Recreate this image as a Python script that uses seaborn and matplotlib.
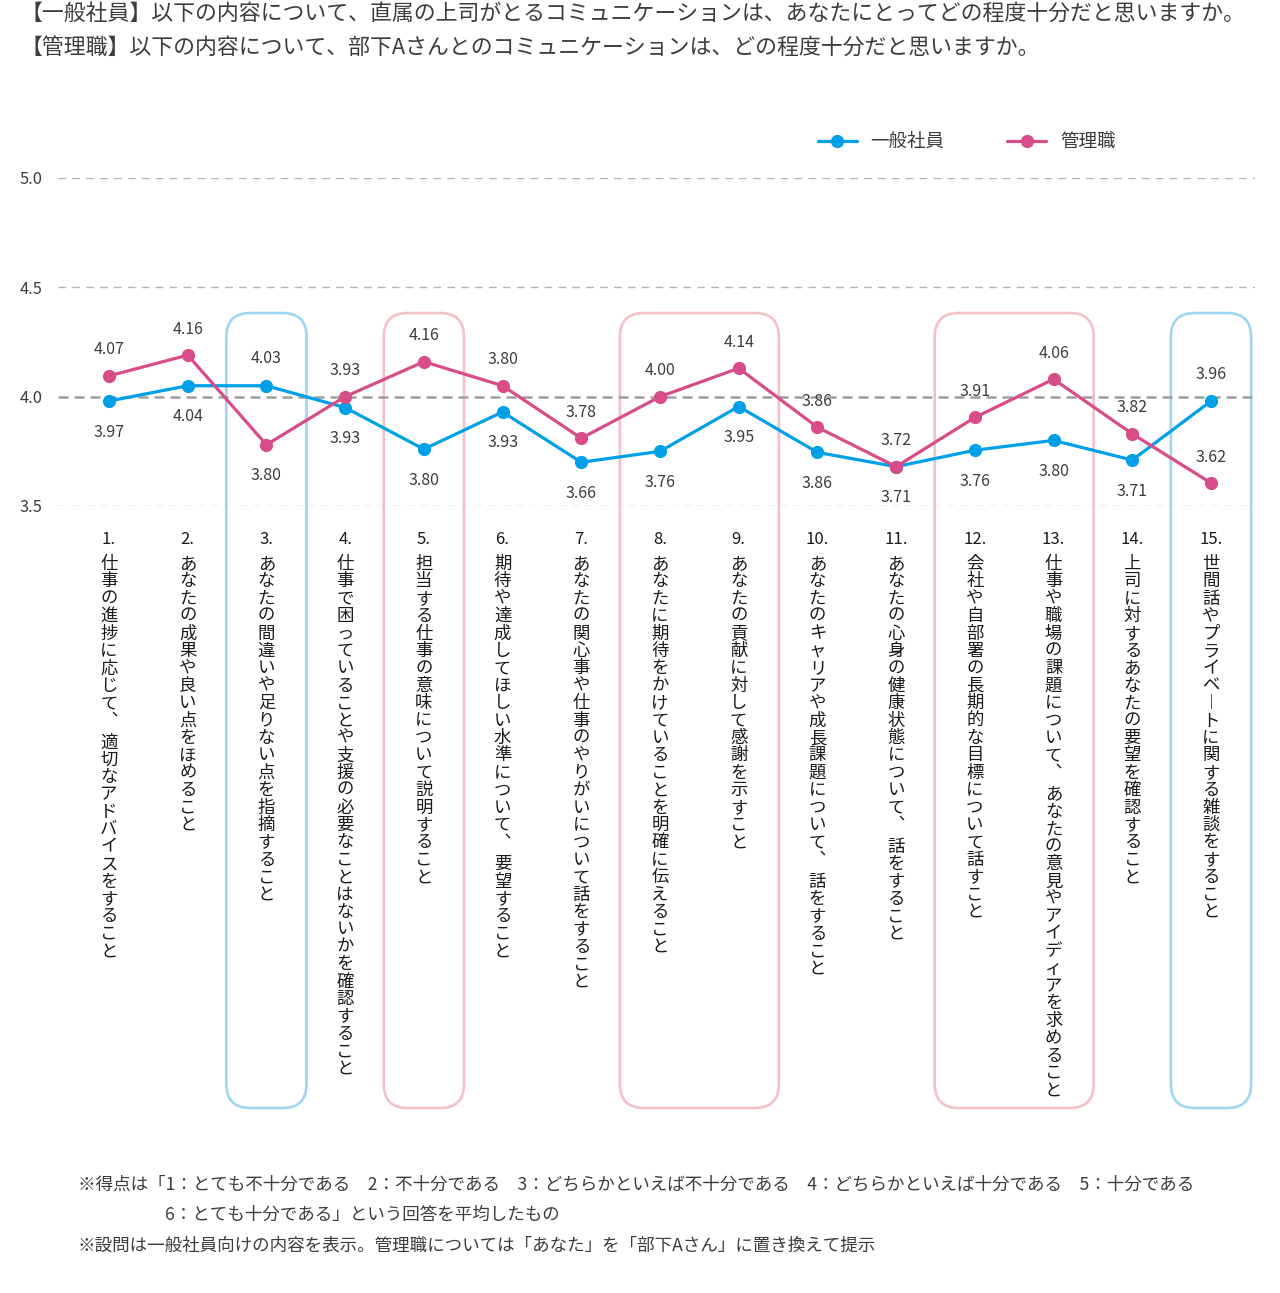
# 上司とのコミュニケーション満足度（一般社員 vs 管理職）の折れ線グラフ

import pandas as pd
import seaborn as sns
import matplotlib.pyplot as plt
from matplotlib.patches import FancyBboxPatch
from matplotlib.lines import Line2D
from matplotlib.transforms import IdentityTransform, blended_transform_factory

# --- データ ---
items = list(range(1, 16))
questions = [
    "仕事の進捗に応じて、適切なアドバイスをすること",
    "あなたの成果や良い点をほめること",
    "あなたの間違いや足りない点を指摘すること",
    "仕事で困っていることや支援の必要なことはないかを確認すること",
    "担当する仕事の意味について説明すること",
    "期待や達成してほしい水準について、要望すること",
    "あなたの関心事や仕事のやりがいについて話をすること",
    "あなたに期待をかけていることを明確に伝えること",
    "あなたの貢献に対して感謝を示すこと",
    "あなたのキャリアや成長課題について、話をすること",
    "あなたの心身の健康状態について、話をすること",
    "会社や自部署の長期的な目標について話すこと",
    "仕事や職場の課題について、あなたの意見やアイディアを求めること",
    "上司に対するあなたの要望を確認すること",
    "世間話やプライベートに関する雑談をすること",
]
# 点の位置
ippan = [3.98, 4.05, 4.05, 3.95, 3.76, 3.93, 3.70, 3.75, 3.955, 3.745,
         3.68, 3.755, 3.80, 3.71, 3.98]
kanri = [4.095, 4.19, 3.78, 4.00, 4.16, 4.05, 3.81, 4.00, 4.13, 3.86,
         3.68, 3.905, 4.08, 3.83, 3.605]
# 数値ラベル（図に書かれている値）
ippan_labels = ["3.97", "4.04", "4.03", "3.93", "3.80", "3.93", "3.66", "3.76",
                "3.95", "3.86", "3.71", "3.76", "3.80", "3.71", "3.96"]
kanri_labels = ["4.07", "4.16", "3.80", "3.93", "4.16", "3.80", "3.78", "4.00",
                "4.14", "3.86", "3.72", "3.91", "4.06", "3.82", "3.62"]
ippan_above = [3, 15]
kanri_below = [3]
blue_boxes = [(3, 3), (15, 15)]
pink_boxes = [(5, 5), (8, 9), (12, 13)]
yticks = [3.5, 4.0, 4.5, 5.0]

titles = [
    "【一般社員】以下の内容について、直属の上司がとるコミュニケーションは、あなたにとってどの程度十分だと思いますか。",
    "【管理職】以下の内容について、部下Aさんとのコミュニケーションは、どの程度十分だと思いますか。",
]
notes = [
    "※得点は「1：とても不十分である　2：不十分である　3：どちらかといえば不十分である　4：どちらかといえば十分である　5：十分である",
    "6：とても十分である」という回答を平均したもの",
    "※設問は一般社員向けの内容を表示。管理職については「あなた」を「部下Aさん」に置き換えて提示",
]

BLUE = "#00a0e9"
PINK = "#d84c87"
TXT = "#3c3c3c"

sns.set_theme(style="white")
plt.rcParams["font.family"] = ["Noto Sans CJK JP", "DejaVu Sans"]

W, H = 1280, 1293
fig = plt.figure(figsize=(W / 100, H / 100), dpi=100)
ax = fig.add_axes([58 / W, 1 - 506 / H, (1255 - 58) / W, (506 - 178) / H])
ax.patch.set_visible(False)

df = pd.DataFrame({
    "item": items * 2,
    "score": ippan + kanri,
    "group": ["一般社員"] * 15 + ["管理職"] * 15,
})
sns.lineplot(data=df, x="item", y="score", hue="group",
             palette={"一般社員": BLUE, "管理職": PINK},
             marker="o", markersize=9.5, markeredgewidth=0, linewidth=2.3,
             legend=False, sort=False, ax=ax, clip_on=False)

ax.set_xlim(0.352, 15.559)
ax.set_ylim(3.5, 5.0)
ax.set_yticks(yticks)
ax.set_yticklabels([f"{y:.1f}" for y in yticks], fontsize=11.8, color=TXT)
ax.tick_params(axis="y", length=0, pad=11)
ax.set_xticks([])
ax.set_xlabel("")
ax.set_ylabel("")
sns.despine(ax=ax, left=True, bottom=True)

for y in yticks:
    if y == 4.0:
        ax.axhline(y, color="#a0a0a0", lw=1.8, ls=(0, (4, 2.4)), zorder=1)
    else:
        ax.axhline(y, color="#b4b4b4", lw=1.0, ls=(0, (5.5, 4.5)), zorder=1)

# 数値ラベル
for i, it in enumerate(items):
    dy = 27 if it in ippan_above else -31
    ax.annotate(ippan_labels[i], (it, ippan[i]), xytext=(0, dy),
                textcoords="offset pixels", ha="center", va="center",
                fontsize=11.5, color=TXT)
    dy = -31 if it in kanri_below else 26
    ax.annotate(kanri_labels[i], (it, kanri[i]), xytext=(0, dy),
                textcoords="offset pixels", ha="center", va="center",
                fontsize=11.5, color=TXT)

# ハイライト枠
fig.canvas.draw()
for boxes, col in [(blue_boxes, "#9fd6ef"), (pink_boxes, "#f4c1c9")]:
    for a, b in boxes:
        x0 = ax.transData.transform((a - 0.51, 4.0))[0]
        x1 = ax.transData.transform((b + 0.51, 4.0))[0]
        box = FancyBboxPatch((x0, H - 1108), x1 - x0, 1108 - 313,
                             boxstyle="round,pad=0,rounding_size=24",
                             transform=IdentityTransform(), fill=False,
                             ec=col, lw=1.9, clip_on=False, zorder=0.5)
        ax.add_patch(box)

# 縦書きの設問ラベル
trans = blended_transform_factory(ax.transData, IdentityTransform())
pitch = 17.4
for it, q in zip(items, questions):
    ax.text(it, H - 540, f"{it}.", transform=trans, ha="center", va="center",
            fontsize=12, color="#1a1a1a")
    y = H - 564
    for ch in q:
        if ch == "、":
            ax.text(it, y, "︑", transform=trans, ha="center", va="center",
                    fontsize=12.5, color="#1a1a1a")
            y -= pitch * 1.25
            continue
        if ch == "ー":
            ch = "︱"
        ax.text(it, y, ch, transform=trans, ha="center", va="center",
                fontsize=12.5, color="#1a1a1a")
        y -= pitch

# タイトル・凡例・注記
fig.text(20 / W, 1 - 14 / H, titles[0], ha="left", va="center",
         fontsize=15.75, color=TXT)
fig.text(20 / W, 1 - 49 / H, titles[1], ha="left", va="center",
         fontsize=15.75, color=TXT)

handles = [
    Line2D([], [], color=BLUE, marker="o", markersize=9.5, markeredgewidth=0, lw=2.3),
    Line2D([], [], color=PINK, marker="o", markersize=9.5, markeredgewidth=0, lw=2.3),
]
leg = fig.legend(handles, ["一般社員", "管理職"], loc="center left",
                 bbox_to_anchor=(818 / W, 1 - 142 / H), ncol=2, frameon=False,
                 fontsize=13.3, handlelength=2.1, handletextpad=0.75,
                 columnspacing=3.4, borderpad=0, borderaxespad=0)
for t in leg.get_texts():
    t.set_color(TXT)

fig.text(78 / W, 1 - 1185 / H, notes[0], ha="left", va="center",
         fontsize=12.65, color=TXT)
fig.text(165 / W, 1 - 1215 / H, notes[1], ha="left", va="center",
         fontsize=12.65, color=TXT)
fig.text(78 / W, 1 - 1246 / H, notes[2], ha="left", va="center",
         fontsize=12.65, color=TXT)

fig.savefig("out.png", dpi=100)
